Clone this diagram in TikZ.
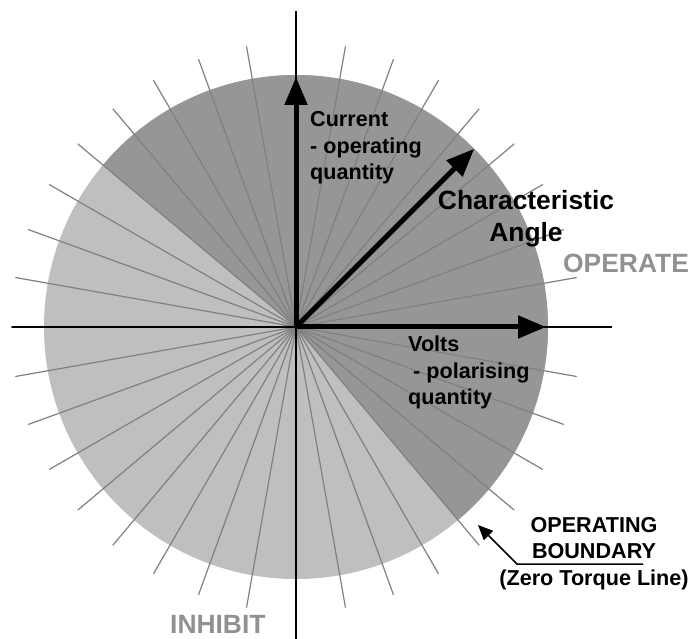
\documentclass[tikz,border=0pt]{standalone}
\usepackage{fontspec}
\setmainfont{Liberation Sans}
\usetikzlibrary{arrows.meta}
\definecolor{operategray}{gray}{0.59}
\definecolor{inhibitgray}{gray}{0.75}
\definecolor{raygray}{gray}{0.5}
\definecolor{zonegray}{gray}{0.57}
\begin{document}
\begin{tikzpicture}[x=1pt, y=1pt,
  every node/.style={font=\bfseries\fontsize{21.6}{26.5}\selectfont, inner sep=0pt},
  vector/.style={line width=5pt, -{Triangle[length=28pt, width=22pt]}},
  zone/.style={font=\bfseries\fontsize{26.4}{32}\selectfont, text=zonegray}]
  \useasboundingbox (-296,-312) rectangle (397,327);
  \coordinate (O) at (0,0);
  % discs
  \fill[inhibitgray] (O) circle (252);
  \fill[operategray] (O) -- (-50:252) arc[start angle=-50, end angle=140, radius=252] -- cycle;
  % rays
  \foreach \a in {0,10,...,350} { \draw[raygray, line width=1.2pt] (O) -- (\a:285); }
  % axes
  \draw[line width=2pt] (-284,0) -- (316,0);
  \draw[line width=2pt] (0,-312) -- (0,316);
  % vectors
  \coordinate (cur) at (90:250);
  \coordinate (volt) at (0:250);
  \coordinate (char) at (45:252);
  \draw[vector] (O) -- (cur);
  \draw[vector] (O) -- (volt);
  \draw[vector] (O) -- (char);
  % labels (base = last line)
  \node[anchor=base west, align=left] (current) at (14,147) {Current\\- operating\\quantity};
  \node[anchor=base west, align=left] (volts) at (112,-78) {Volts\\\hspace*{5pt}- polarising\\quantity};
  \node[anchor=base, align=center, font=\bfseries\fontsize{26.4}{32}\selectfont] (charangle) at (230,85) {Characteristic\\Angle};
  \node[zone, anchor=base west] (operate) at (267,54) {OPERATE};
  \node[zone, anchor=base west] (inhibit) at (-126,-306) {INHIBIT};
  \node[anchor=base, align=center] (boundary) at (298,-258) {OPERATING\\BOUNDARY\\(Zero Torque Line)};
  % pointer to boundary
  \coordinate (bnd) at (182,-198);
  \coordinate (ulL) at (221,-237);
  \coordinate (ulR) at (347,-237);
  \draw[line width=1.5pt, -{Triangle[length=15pt, width=13pt]}] (ulR) -- (ulL) -- (bnd);
\end{tikzpicture}
\end{document}
